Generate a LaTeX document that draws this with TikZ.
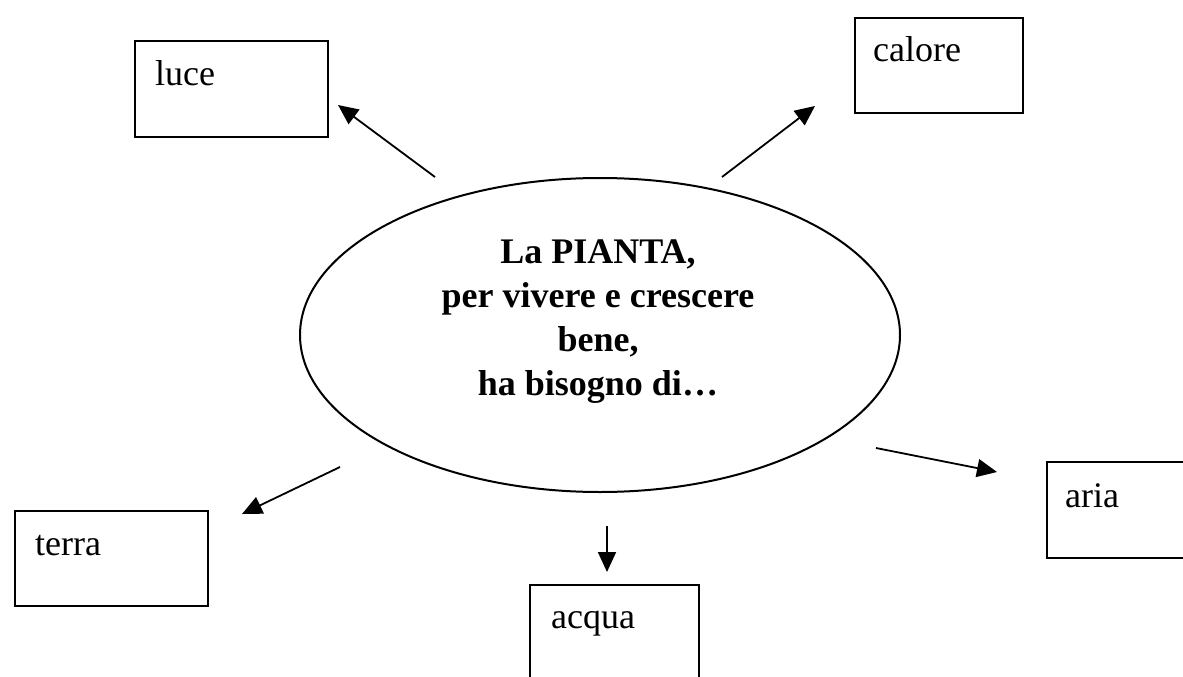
\documentclass[tikz,border=0pt]{standalone}
\usepackage{fontspec}
\setmainfont{Liberation Serif}
\usetikzlibrary{arrows.meta,shapes.geometric}
\begin{document}
\begin{tikzpicture}[x=1pt,y=-1pt,
  boxnode/.style={draw=black,line width=2pt,rectangle,inner sep=0pt},
  boxtext/.style={anchor=base west,inner sep=0pt,font=\fontsize{36}{44}\selectfont},
  arr/.style={line width=1.8pt,-{Triangle[length=20pt,width=18pt]}}]
\useasboundingbox (0,0) rectangle (1183,677);
\clip (0,0) rectangle (1183,677);
% central ellipse
\node[draw=black,line width=2pt,ellipse,minimum width=600pt,minimum height=314pt,inner sep=0pt] (pianta) at (600,335) {};
\node[align=center,inner sep=0pt,font=\fontsize{36}{44}\selectfont\bfseries,anchor=center] (ptext) at (598,322)
  {La PIANTA,\\per vivere e crescere\\bene,\\ha bisogno di…};
% boxes
\node[boxnode,minimum width=193pt,minimum height=96pt] (luce) at (231.5,89) {};
\node[boxtext] (lucet) at (155,85) {luce};
\node[boxnode,minimum width=168pt,minimum height=95pt] (calore) at (939,65.5) {};
\node[boxtext] (caloret) at (873,62) {calore};
\node[boxnode,minimum width=193pt,minimum height=95pt] (terra) at (111.5,558.5) {};
\node[boxtext] (terrat) at (35,555) {terra};
\node[boxnode,minimum width=169pt,minimum height=96pt] (acqua) at (614.5,633) {};
\node[boxtext] (acquat) at (551,628) {acqua};
\node[boxnode,minimum width=140pt,minimum height=96pt] (aria) at (1117,510) {};
\node[boxtext] (ariat) at (1065,507) {aria};
% arrow end points
\coordinate (s1) at (435,177); \coordinate (e1) at (338,105);
\coordinate (s2) at (722,177); \coordinate (e2) at (815,106);
\coordinate (s3) at (340,467); \coordinate (e3) at (242,514);
\coordinate (s4) at (607,526); \coordinate (e4) at (607,572);
\coordinate (s5) at (876,448); \coordinate (e5) at (997,472);
\draw[arr] (s1) -- (e1);
\draw[arr] (s2) -- (e2);
\draw[arr] (s3) -- (e3);
\draw[arr] (s4) -- (e4);
\draw[arr] (s5) -- (e5);
\end{tikzpicture}
\end{document}
